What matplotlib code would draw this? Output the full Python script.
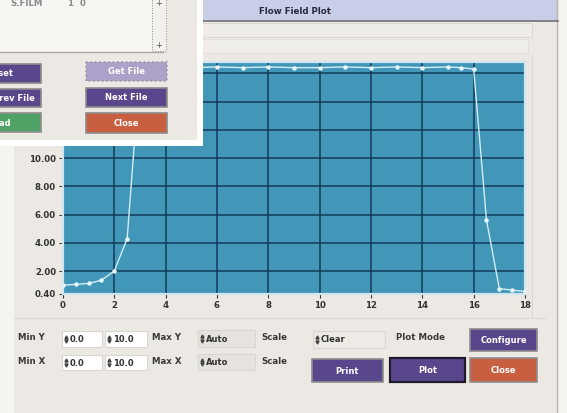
import matplotlib
matplotlib.use('Agg')
import matplotlib.pyplot as plt
from matplotlib.patches import Rectangle

# velocity profile across the channel
x_pos = [0.0, 0.5, 1.0, 1.5, 2.0, 2.5, 3.0, 4.0, 5.0, 6.0, 7.0, 8.0, 9.0, 10.0,
         11.0, 12.0, 13.0, 14.0, 15.0, 15.5, 16.0, 16.5, 17.0, 17.5, 18.0]
velocity = [1.0, 1.05, 1.12, 1.35, 2.0, 4.3, 16.3, 16.4, 16.4, 16.45, 16.4, 16.45, 16.4, 16.4,
            16.45, 16.4, 16.45, 16.4, 16.45, 16.4, 16.3, 5.6, 0.75, 0.65, 0.55]

y_ticks = [0.4, 2, 4, 6, 8, 10, 12, 14, 16]
y_labels = ['0.40', '2.00', '4.00', '6.00', '8.00', '10.00', '', '', '']  # upper ones sit under the dialog
x_ticks = [0, 2, 4, 6, 8, 10, 12, 14, 16, 18]

W, H = 567, 413
GREY = '#ECE9E4'
PURPLE = '#5A468C'
TEAL = '#4296B8'


def px_axes(fig, x0, y0, x1, y1):
    return fig.add_axes([x0 / W, 1 - y1 / H, (x1 - x0) / W, (y1 - y0) / H])


def canvas(fig, z):
    a = fig.add_axes([0, 0, 1, 1])
    a.set_xlim(0, W)
    a.set_ylim(H, 0)
    a.axis('off')
    a.set_zorder(z)
    return a


def rect(ax, x0, y0, x1, y1, face, edge='none', lw=1.0, ls='-'):
    ax.add_patch(Rectangle((x0, y0), x1 - x0, y1 - y0, facecolor=face,
                           edgecolor=edge, lw=lw, linestyle=ls))


def button(ax, x0, y0, x1, y1, text, face, edge='#8C8C8C', lw=1.2, ls='-', tx=None, ha='center'):
    rect(ax, x0, y0, x1, y1, face, edge, lw, ls)
    if tx is None:
        tx = (x0 + x1) / 2
    ax.text(tx, (y0 + y1) / 2 + 0.5, text, color='white', fontsize=6, fontweight='bold',
            ha=ha, va='center', clip_on=True)


def spinner(ax, x0, y0, x1, y1, text, face='white'):
    rect(ax, x0, y0, x1, y1, face, '#DAD7D2', 0.8)
    ym = (y0 + y1) / 2
    ax.plot([x0 + 4], [ym - 2.3], marker='^', ms=2.2, color='#444444', lw=0)
    ax.plot([x0 + 4], [ym + 2.3], marker='v', ms=2.2, color='#444444', lw=0)
    ax.text(x0 + 8, ym + 0.5, text, fontsize=6, fontweight='bold', color='#333333',
            ha='left', va='center')


def label(ax, x, y, text):
    ax.text(x, y, text, fontsize=6.2, fontweight='bold', color='#3A3A3A', ha='left', va='center')


fig = plt.figure(figsize=(W / 100, H / 100), dpi=100)
fig.patch.set_facecolor('#F5F4F1')

# main window
bg = canvas(fig, 0)
rect(bg, 14, 0, 557, H, GREY)
bg.plot([557, 557], [0, H], color='#B8B6B2', lw=1)
rect(bg, 14, 0, 558, 20, '#C8CDE8')
bg.plot([14, 558], [20.5, 20.5], color='#6E6E78', lw=1.2)
bg.text(295, 11, 'Flow Field Plot', fontsize=6.2, fontweight='bold', color='#2A2A3A',
        ha='center', va='center')
rect(bg, 14, 23, 532, 37, '#EFEDE9', '#DCD9D4', 0.8)
rect(bg, 14, 39, 528, 53, '#EFEDE9', '#E0DDD8', 0.6)
bg.plot([14, 545], [318, 318], color='#DCD9D4', lw=0.8)
bg.plot([532, 532], [55, 318], color='#DCD9D4', lw=0.8)

# controls below the plot
label(bg, 18, 338, 'Min Y')
spinner(bg, 62, 331, 102, 347, '0.0')
spinner(bg, 105, 331, 147, 347, '10.0')
label(bg, 152, 338, 'Max Y')
spinner(bg, 198, 330, 255, 347, 'Auto', face='#E6E3DF')
label(bg, 261, 337, 'Scale')
spinner(bg, 313, 331, 385, 348, 'Clear', face='#EEEBE7')
label(bg, 396, 337, 'Plot Mode')
button(bg, 470, 329, 537, 351, 'Configure', PURPLE)

label(bg, 18, 362, 'Min X')
spinner(bg, 62, 355, 102, 370, '0.0')
spinner(bg, 105, 355, 147, 370, '10.0')
label(bg, 152, 362, 'Max X')
spinner(bg, 198, 354, 255, 370, 'Auto', face='#E6E3DF')
label(bg, 261, 362, 'Scale')
button(bg, 312, 359, 383, 382, 'Print', PURPLE)
button(bg, 390, 358, 465, 382, 'Plot', PURPLE, edge='#1E1A2A', lw=1.6)
button(bg, 470, 358, 537, 382, 'Close', '#C85F41')

# plot area
ax = px_axes(fig, 63, 62, 525, 293.6)
ax.set_zorder(1)
ax.set_facecolor(TEAL)
ax.set_xlim(0, 18)
ax.set_ylim(0.4, 16.8)
ax.set_xticks(x_ticks)
ax.set_yticks(y_ticks)
ax.set_xticklabels([str(t) for t in x_ticks])
ax.set_yticklabels(y_labels)
ax.tick_params(length=3, width=0.8, color='#333333', labelsize=6.2, labelcolor='#333333', pad=2)
for t in ax.get_xticklabels() + ax.get_yticklabels():
    t.set_fontweight('bold')
for s in ax.spines.values():
    s.set_color('#CFE6F0')
    s.set_linewidth(1.6)
for t in x_ticks[1:-1]:
    ax.axvline(t, color='#123A58', lw=1.1, zorder=1)
for t in y_ticks[1:]:
    ax.axhline(t, color='#123A58', lw=1.1, zorder=1)
ax.plot(x_pos, velocity, color='#D2EEF7', lw=1.0, marker='o', ms=2.2,
        mfc='#E8F7FC', mec='#E8F7FC', zorder=3)

# file dialog on top
top = canvas(fig, 2)
rect(top, -5, -5, 203, 146, 'white')
rect(top, -5, -5, 197, 140, GREY)
rect(top, -5, -5, 163, 52, '#F7F6F3', '#A8A6A2', 0.9)
top.text(10, 3, 'S.FILM', fontsize=6.2, fontweight='bold', color='#8A8A8A', ha='left', va='center')
top.text(68, 3, '1  0', fontsize=6.2, fontweight='bold', color='#8A8A8A', ha='left', va='center')
rect(top, 152, -2, 166, 51, '#F2F1EE', '#8A8A8A', 0.7, ':')
top.text(159, 3, '+', fontsize=6, color='#555555', ha='center', va='center')
top.text(159, 45, '+', fontsize=6, color='#555555', ha='center', va='center')

button(top, -40, 64, 41, 83, 'Reset', PURPLE, tx=13, ha='right')
button(top, -40, 89, 41, 107, 'Prev File', PURPLE, tx=35, ha='right')
button(top, -40, 113, 41, 132, 'Load', '#4FA165', tx=11, ha='right')
button(top, 86, 62, 167, 81, 'Get File', '#ABA1C9', edge='#9C9AA8', ls=':')
button(top, 86, 88, 167, 107, 'Next File', PURPLE)
button(top, 86, 113, 167, 133, 'Close', '#C85F41')

fig.savefig('out.png', dpi=100)
